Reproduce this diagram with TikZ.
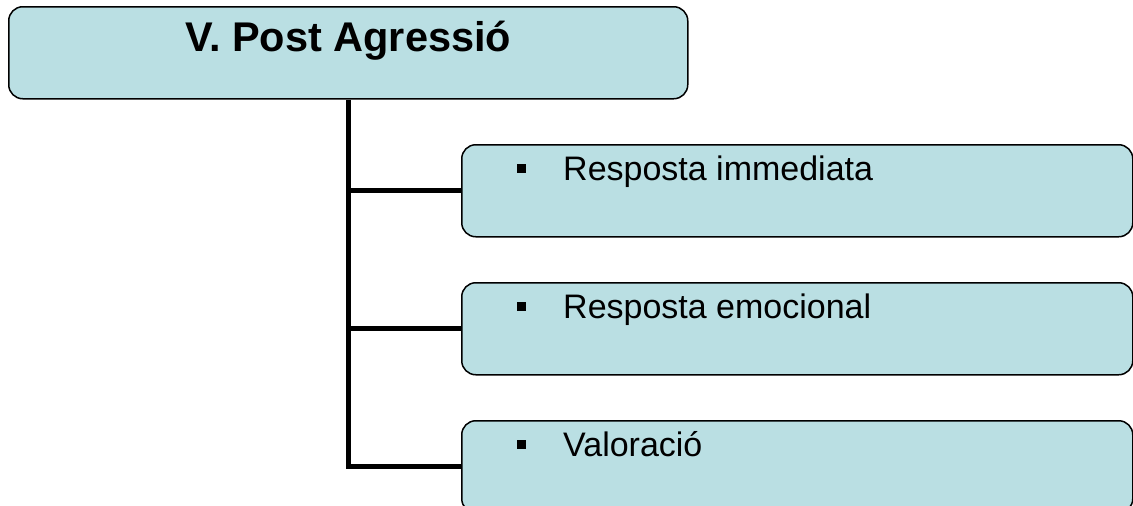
\documentclass[tikz,border=0pt]{standalone}
\usepackage{fontspec}
\setmainfont{Liberation Sans}
\usetikzlibrary{positioning,calc}

\definecolor{boxfill}{HTML}{BADFE3}

\tikzset{
	box/.style={draw,line width=1.5pt,fill=boxfill,rounded corners=14pt,inner sep=0pt},
	trunk/.style={line width=5pt},
	item/.style={inner sep=0pt,anchor=base west,font=\fontsize{34}{40}\selectfont},
	bulletsq/.style={fill=black,minimum size=9pt,inner sep=0pt}
}

\begin{document}
\begin{tikzpicture}[x=1pt,y=1pt]

	\useasboundingbox (0,0) rectangle (1133,-506);

	% header box
	\node[box,minimum width=679pt,minimum height=92pt,anchor=north west](title) at (8,-6) {};
	\node[inner sep=0pt,anchor=base,font=\fontsize{41.5}{48}\selectfont\bfseries](titletext) at ($(title.north)+(0,-45.7)$) {V. Post Agressió};

	% item boxes
	\node[box,minimum width=671pt,minimum height=92pt,anchor=north west](resp1) at (461,-144) {};
	\node[box,minimum width=671pt,minimum height=92pt,anchor=north west](resp2) at (461,-282) {};
	\node[box,minimum width=671pt,minimum height=92pt,anchor=north west](val) at (461,-420) {};

	\node[bulletsq](bul1) at ($(resp1.north west)+(60.5,-24.5)$) {};
	\node[item](txt1) at ($(resp1.north west)+(102,-36)$) {Resposta immediata};

	\node[bulletsq](bul2) at ($(resp2.north west)+(60.5,-24.5)$) {};
	\node[item](txt2) at ($(resp2.north west)+(102,-36)$) {Resposta emocional};

	\node[bulletsq](bul3) at ($(val.north west)+(60.5,-24.5)$) {};
	\node[item](txt3) at ($(val.north west)+(102,-36)$) {Valoració};

	% connectors
	\draw[trunk] (title.south) |- (val.west);
	\draw[trunk] (title.south |- resp1.west) -- (resp1.west);
	\draw[trunk] (title.south |- resp2.west) -- (resp2.west);

\end{tikzpicture}
\end{document}
